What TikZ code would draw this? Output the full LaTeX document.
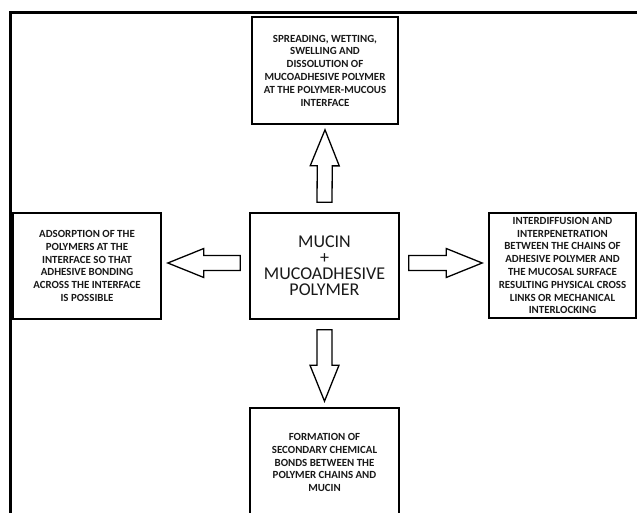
\documentclass[tikz,border=0pt]{standalone}
\usepackage{fontspec}
\setmainfont{Carlito}
\usetikzlibrary{calc}
\tikzset{
  box/.style={draw=black, line width=1.6pt, fill=white, inner sep=0pt, align=center,
    font=\bfseries\fontsize{10.9}{12.8}\selectfont, text=black!90},
  centerbox/.style={box, font=\fontsize{18}{16}\selectfont},
  barrow/.style={draw=black, line width=1.3pt, fill=white, line join=miter},
  frameline/.style={draw=black, line width=3pt}
}
\newcommand{\blockarr}[2]{%
  \path[barrow] let \p1=(#1), \p2=(#2),
    \n1={veclen(\x2-\x1,\y2-\y1)}, \n2={atan2(\y2-\y1,\x2-\x1)} in
    [shift={(\p1)}, rotate=\n2]
    (0pt,-7.5pt) -- (\n1-36pt,-7.5pt) -- (\n1-36pt,-14.5pt) -- (\n1,0pt)
    -- (\n1-36pt,14.5pt) -- (\n1-36pt,7.5pt) -- (0pt,7.5pt) -- cycle;}
\begin{document}
\begin{tikzpicture}[x=1pt,y=-1pt]
\useasboundingbox (0,0) rectangle (637,513);
\clip (0,0) rectangle (637,513);
\fill[white] (0,0) rectangle (637,513);
\draw[frameline] (10.5,560) -- (10.5,12.5) -- (700,12.5);

\node[box, minimum width=146pt, minimum height=107pt] (top) at (325,70.5)
  {SPREADING, WETTING,\\ SWELLING AND\\ DISSOLUTION OF\\ MUCOADHESIVE POLYMER\\ AT THE POLYMER-MUCOUS\\ INTERFACE};
\node[centerbox, minimum width=149pt, minimum height=106pt] (mid) at (324.5,266)
  {MUCIN\\ +\\ MUCOADHESIVE\\ POLYMER};
\node[box, minimum width=148pt, minimum height=106pt] (left) at (87,266)
  {ADSORPTION OF THE\\ POLYMERS AT THE\\ INTERFACE SO THAT\\ ADHESIVE BONDING\\ ACROSS THE INTERFACE\\ IS POSSIBLE};
\node[box, minimum width=147pt, minimum height=105pt] (right) at (562.5,265.5)
  {INTERDIFFUSION AND\\ INTERPENETRATION\\ BETWEEN THE CHAINS OF\\ ADHESIVE POLYMER AND\\ THE MUCOSAL SURFACE\\ RESULTING PHYSICAL CROSS\\ LINKS OR MECHANICAL\\ INTERLOCKING};
\node[box, minimum width=149pt, minimum height=109pt] (bot) at (324.5,462.5)
  {FORMATION OF\\ SECONDARY CHEMICAL\\ BONDS BETWEEN THE\\ POLYMER CHAINS AND\\ MUCIN};

\coordinate (upS) at ($(mid.north)+(0pt,10pt)$);
\coordinate (upT) at ($(top.south)+(0pt,-5pt)$);
\coordinate (dnS) at ($(mid.south)+(0pt,-10pt)$);
\coordinate (dnT) at ($(bot.north)+(0pt,6pt)$);
\coordinate (lfS) at ($(mid.west)+(-9pt,3pt)$);
\coordinate (lfT) at ($(left.east)+(6pt,3pt)$);
\coordinate (rtS) at ($(mid.east)+(9pt,3pt)$);
\coordinate (rtT) at ($(right.west)+(-6pt,2.5pt)$);
\blockarr{upS}{upT}
\blockarr{dnS}{dnT}
\blockarr{lfS}{lfT}
\blockarr{rtS}{rtT}
\end{tikzpicture}
\end{document}
